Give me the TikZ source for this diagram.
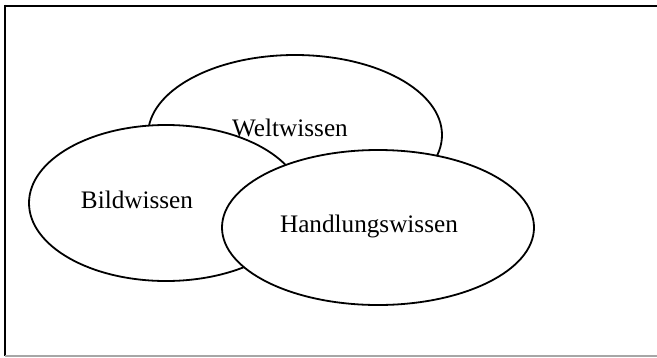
\documentclass[tikz,border=0pt]{standalone}
\usepackage{fontspec}
\setmainfont{Liberation Serif}
\tikzset{
  blob/.style={draw=black, line width=1.8pt, fill=white, ellipse},
  lbl/.style={anchor=base, inner sep=0pt, font=\fontsize{25.2}{30}\selectfont},
}
\usetikzlibrary{shapes.geometric}
\begin{document}
\begin{tikzpicture}[x=1pt, y=-1pt]
  \useasboundingbox (0,0) rectangle (657,357);
  % frame lines
  \coordinate (tl) at (4,5.5);
  \coordinate (tr) at (657,5.5);
  \coordinate (lt) at (5,4.5);
  \coordinate (lb) at (5,356);
  \coordinate (bl) at (5,356);
  \coordinate (br) at (657,356);
  \draw[line width=2pt, black] (tl) -- (tr);
  \draw[line width=2pt, black] (lt) -- (lb);
  \draw[line width=1.6pt, black!35] (bl) -- (br);
  % overlapping ellipses, back to front
  \node[blob, minimum width=294pt, minimum height=160pt] (welt) at (295,135) {};
  \node[blob, minimum width=274pt, minimum height=156pt] (bild) at (166,203) {};
  \node[blob, minimum width=312pt, minimum height=155pt] (hand) at (378,227.5) {};
  % labels
  \node[lbl] (tw) at (290,136) {Weltwissen};
  \node[lbl] (tb) at (137,208) {Bildwissen};
  \node[lbl] (th) at (369,232) {Handlungswissen};
\end{tikzpicture}
\end{document}
